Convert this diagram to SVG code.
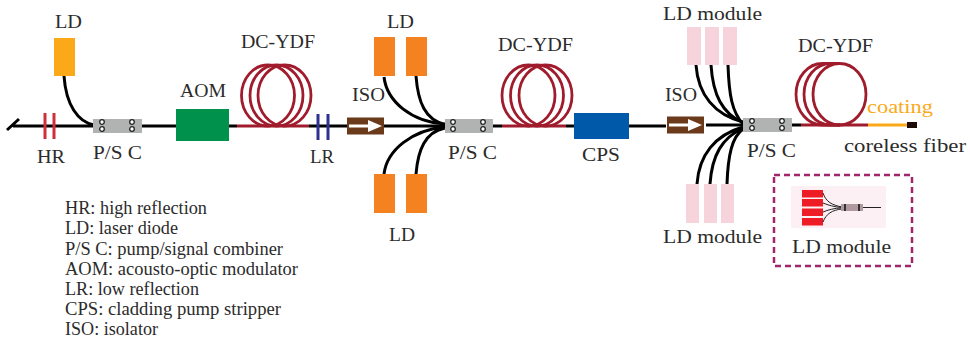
<svg xmlns="http://www.w3.org/2000/svg" width="970" height="343" viewBox="0 0 970 343">
<style>
text{font-family:"Liberation Serif","Times New Roman",serif;font-size:18.500px;fill:#2b2b2b}
.f{fill:none;stroke:#000;stroke-width:3;stroke-linecap:butt}
.thin{fill:none;stroke:#000;stroke-width:3}
.y{fill:none;stroke:#A01C2C;stroke-width:2.800}
.psc{fill:#B0B3B1}
.hole{fill:#fff;stroke:#222;stroke-width:1.300}
.ld1{fill:#FBA919}.ld2{fill:#F58220}.ldm{fill:#F7D3DC}
.hr{fill:none;stroke:#CF2F3A;stroke-width:3}
.lr{fill:none;stroke:#2E3192;stroke-width:3}
.iso{fill:#6B3A1B}
.arr{fill:#fff}
.r{fill:#EE1C25}
.i{fill:none;stroke:#222;stroke-width:1}
</style>
<defs>
<g id="holes"><circle cx="6" cy="-4" r="2.300" class="hole"/><circle cx="6" cy="3" r="2.300" class="hole"/><circle cx="36" cy="-4" r="2.300" class="hole"/><circle cx="36" cy="3" r="2.300" class="hole"/></g>
<g id="isoarrow"><rect x="0" y="-8.500" width="37" height="17" class="iso"/><path d="M2,-1.500H21V-6L35,0L21,6V1.500H2Z" class="arr"/></g>
</defs>
<g id="connectors">
<path class="thin" d="M7,130L19,119M13,126H93M142,126H176M229,126H237M309,126H347M384,126H445M493,126H502M566,126H574M629,126H666M706,125H743M792,125H801"/>
<path class="f" d="M64,76C66,105 78,122 94,125"/>
<path class="f" d="M384,77C387,102 412,122 445,124M416,76C418,102 425,120 445,124.500M384,174C387,150 412,130 445,127M416,174C418,150 425,132 445,128"/>
<path class="f" d="M696,65C698,95 715,115 743,122M711,65C713,95 722,113 743,123M728,65C729,95 732,112 743,124M697,184C699,155 715,135 743,127M710,184C712,155 722,138 743,128M727,184C728,155 732,137 743,129"/>
<path class="y" d="M237,126H309M502,126H566M801,125H868"/>
<path fill="none" stroke="#FBA919" stroke-width="3" d="M868,125H908"/>
</g>
<g id="hr"><path class="hr" d="M45,113V139M54,113V139"/><text x="37" y="163" textLength="28" lengthAdjust="spacingAndGlyphs">HR</text></g>
<g id="ld1"><rect class="ld1" x="54" y="38" width="21" height="38"/><text x="55" y="28" textLength="27" lengthAdjust="spacingAndGlyphs">LD</text></g>
<g id="psc1"><rect class="psc" x="93" y="119" width="49" height="14"/><use href="#holes" x="96" y="126"/><text x="93" y="159" textLength="49" lengthAdjust="spacingAndGlyphs">P/S C</text></g>
<g id="aom"><rect x="176" y="109" width="53" height="32" fill="#00914C"/><text x="180" y="97" textLength="46" lengthAdjust="spacingAndGlyphs">AOM</text></g>
<g id="ydf1"><g class="y"><ellipse cx="268" cy="95.500" rx="26.500" ry="30.500"/><ellipse cx="276.500" cy="95.500" rx="26.500" ry="30.500"/><ellipse cx="284.500" cy="95.500" rx="26.500" ry="30.500"/></g><text x="241" y="48" textLength="74" lengthAdjust="spacingAndGlyphs">DC-YDF</text></g>
<g id="lr"><path class="lr" d="M318,114V140M328,114V140"/><text x="310" y="163" textLength="24" lengthAdjust="spacingAndGlyphs">LR</text></g>
<g id="iso1"><use href="#isoarrow" x="347" y="126"/><text x="352" y="101" textLength="33" lengthAdjust="spacingAndGlyphs">ISO</text></g>
<g id="ld2"><rect class="ld2" x="374" y="37" width="21" height="39"/><rect class="ld2" x="406" y="37" width="21" height="39"/><text x="387" y="28" textLength="27" lengthAdjust="spacingAndGlyphs">LD</text></g>
<g id="ld3"><rect class="ld2" x="374" y="174" width="21" height="39"/><rect class="ld2" x="406" y="174" width="21" height="39"/><text x="389" y="241" textLength="26" lengthAdjust="spacingAndGlyphs">LD</text></g>
<g id="psc2"><rect class="psc" x="445" y="119" width="48" height="14"/><use href="#holes" x="447" y="126"/><text x="448" y="159" textLength="49" lengthAdjust="spacingAndGlyphs">P/S C</text></g>
<g id="ydf2"><g class="y"><ellipse cx="528.500" cy="95.500" rx="26.500" ry="30.500"/><ellipse cx="537" cy="95.500" rx="26.500" ry="30.500"/><ellipse cx="545.500" cy="95.500" rx="26.500" ry="30.500"/></g><text x="498" y="51" textLength="75" lengthAdjust="spacingAndGlyphs">DC-YDF</text></g>
<g id="cps"><rect x="574" y="113" width="55" height="26" fill="#0059A9"/><text x="582" y="161" textLength="38" lengthAdjust="spacingAndGlyphs">CPS</text></g>
<g id="iso2"><use href="#isoarrow" x="667" y="125"/><text x="665" y="101" textLength="32" lengthAdjust="spacingAndGlyphs">ISO</text></g>
<g id="ldm1"><rect class="ldm" x="687" y="27" width="14" height="38"/><rect class="ldm" x="705" y="27" width="14" height="38"/><rect class="ldm" x="723" y="27" width="14" height="38"/><text x="663" y="20" textLength="99" lengthAdjust="spacingAndGlyphs">LD module</text></g>
<g id="ldm2"><rect class="ldm" x="686" y="184" width="13" height="39"/><rect class="ldm" x="704" y="184" width="13" height="39"/><rect class="ldm" x="721" y="184" width="13" height="39"/><text x="663" y="243" textLength="99" lengthAdjust="spacingAndGlyphs">LD module</text></g>
<g id="psc3"><rect class="psc" x="743" y="118" width="49" height="14"/><use href="#holes" x="746" y="125"/><text x="747" y="157" textLength="49" lengthAdjust="spacingAndGlyphs">P/S C</text></g>
<g id="ydf3"><g class="y"><ellipse cx="839.500" cy="94.250" rx="26.500" ry="30.750"/><path d="M840,63.500H822.500A26.500,30.750 0 0 0 822.500,125H840"/><path d="M840,63.500H830.500A26.500,30.750 0 0 0 830.500,125H840"/></g><text x="798" y="52" textLength="75" lengthAdjust="spacingAndGlyphs">DC-YDF</text></g>
<g id="coating"><text x="867" y="113" textLength="66" lengthAdjust="spacingAndGlyphs" style="fill:#FBA919">coating</text></g>
<g id="coreless"><rect x="907" y="122" width="10" height="6" fill="#1d0a06"/><text x="844" y="152" textLength="122" lengthAdjust="spacingAndGlyphs">coreless fiber</text></g>
<g id="inset">
<rect x="774" y="175" width="138" height="91" fill="none" stroke="#A0256B" stroke-width="2.500" stroke-dasharray="6 4"/>
<rect x="791" y="186" width="95" height="42" fill="#FCF0F4"/>
<rect class="r" x="802" y="190" width="21" height="7.500"/><rect class="r" x="802" y="199" width="21" height="7.500"/><rect class="r" x="802" y="208.500" width="21" height="7.500"/><rect class="r" x="802" y="218" width="21" height="7.500"/>
<path class="i" d="M823,193C826,202 832,205 842,207M823,203C828,205 834,207 842,207.500M823,212C828,210 834,208 842,208M823,222C826,214 832,210 842,209M860,207.500H881"/>
<rect x="841" y="204" width="22" height="7" fill="#B09A9F"/>
<path d="M845,204V211M859,204V211" stroke="#333" stroke-width="2"/>
<text x="792" y="253" textLength="99" lengthAdjust="spacingAndGlyphs">LD module</text>
</g>
<g id="legend">
<text x="65" y="214" textLength="142" lengthAdjust="spacingAndGlyphs">HR: high reflection</text>
<text x="65" y="234" textLength="113" lengthAdjust="spacingAndGlyphs">LD: laser diode</text>
<text x="65" y="255" textLength="218" lengthAdjust="spacingAndGlyphs">P/S C: pump/signal combiner</text>
<text x="65" y="275" textLength="233" lengthAdjust="spacingAndGlyphs">AOM: acousto-optic modulator</text>
<text x="65" y="295" textLength="134" lengthAdjust="spacingAndGlyphs">LR: low reflection</text>
<text x="65" y="315" textLength="216" lengthAdjust="spacingAndGlyphs">CPS: cladding pump stripper</text>
<text x="65" y="335" textLength="93" lengthAdjust="spacingAndGlyphs">ISO: isolator</text>
</g>
</svg>
